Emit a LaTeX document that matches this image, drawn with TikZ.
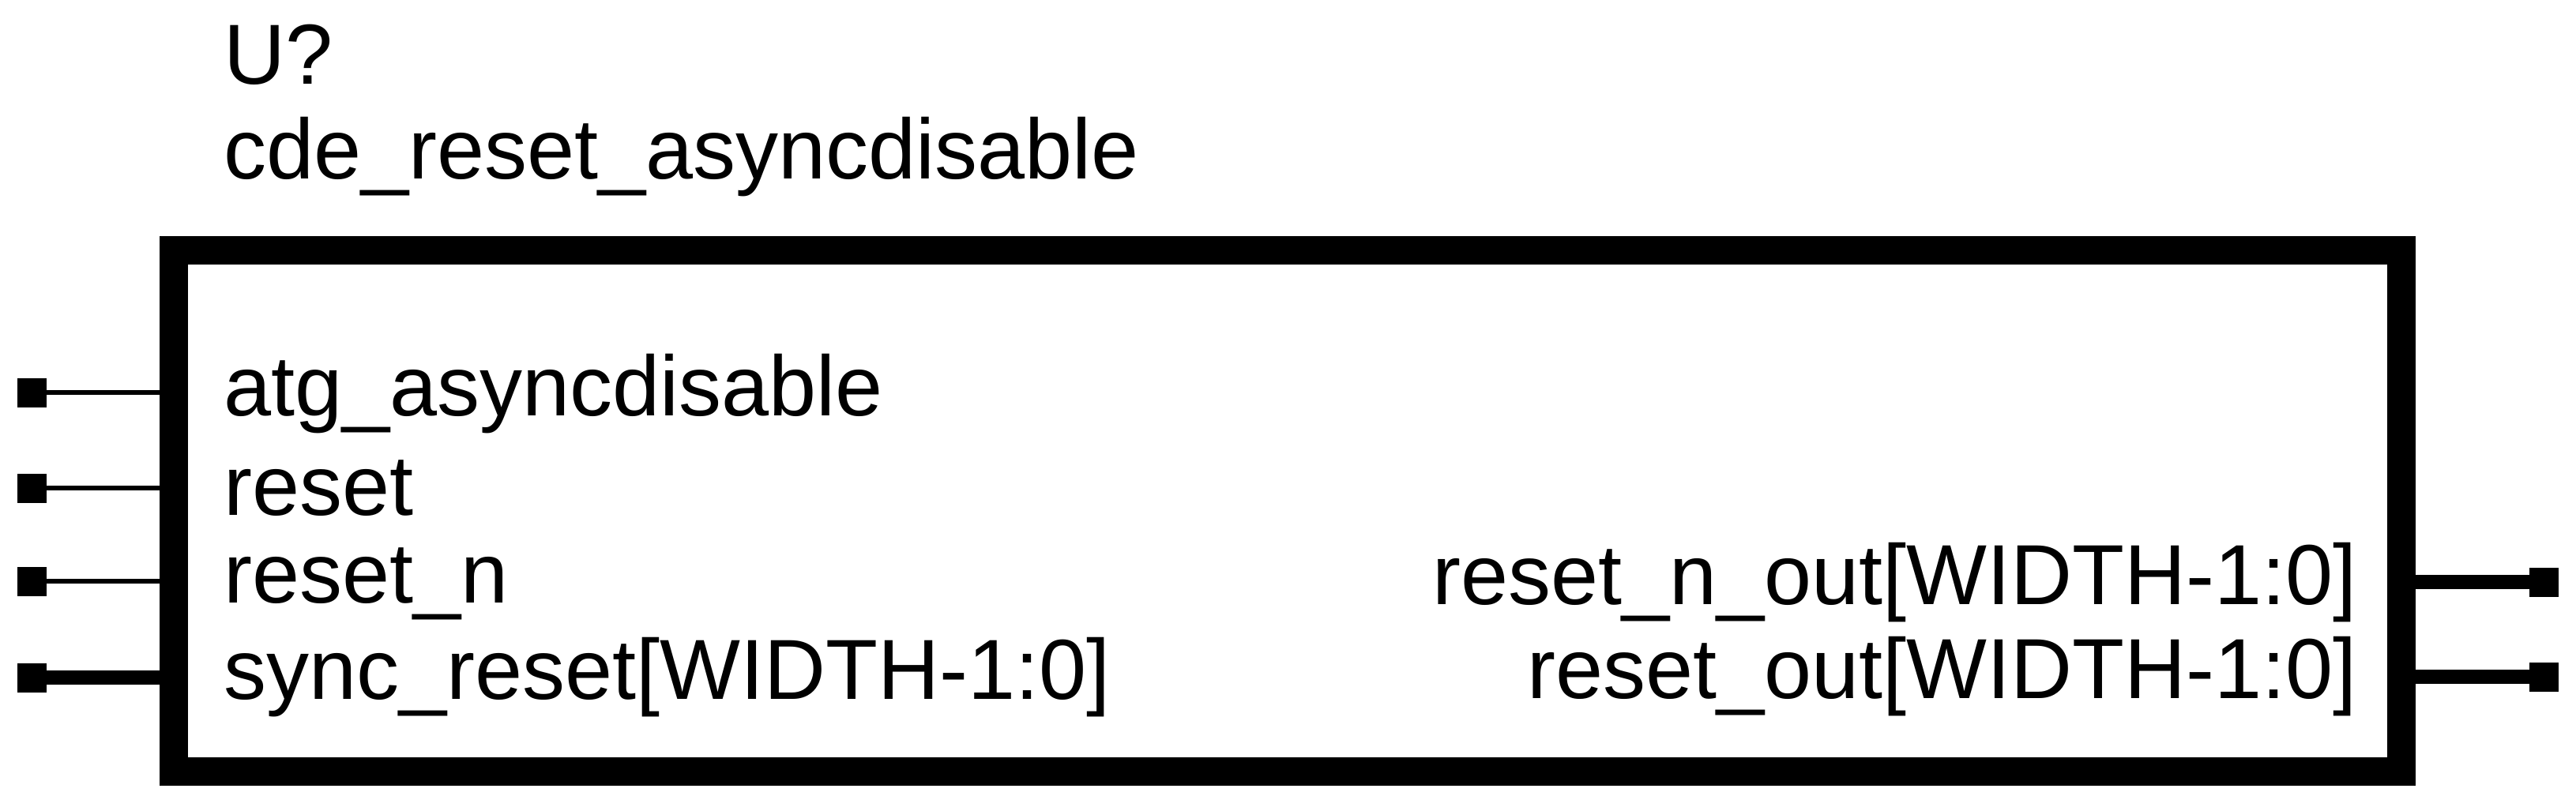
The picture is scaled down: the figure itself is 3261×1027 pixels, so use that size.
\documentclass[tikz,border=0pt]{standalone}
\usepackage{fontspec}
\setmainfont{Liberation Sans}
\begin{document}
\begin{tikzpicture}[x=1pt,y=-1pt,
  pinsq/.style={draw=none,fill=black,minimum size=37pt,inner sep=0pt,outer sep=0pt},
  thinw/.style={line width=6pt},
  thickw/.style={line width=18pt},
  lbl/.style={inner sep=0pt,font=\fontsize{108}{120}\selectfont}]
\useasboundingbox (0,0) rectangle (3261,1027);
\node[draw,line width=36pt,minimum width=2820pt,minimum height=660pt,inner sep=0pt] (box) at (1630,647) {};
% title
\node[lbl,anchor=base west] (ref) at (283,107) {U?};
\node[lbl,anchor=base west] (name) at (283,227) {cde\_reset\_asyncdisable};
% left pins
\node[pinsq] (l1) at (40,497) {};
\node[pinsq] (l2) at (40,618) {};
\node[pinsq] (l3) at (40,736) {};
\node[pinsq] (l4) at (40,858) {};
\draw[thinw] (l1.center) -- (l1.center -| box.west);
\draw[thinw] (l2.center) -- (l2.center -| box.west);
\draw[thinw] (l3.center) -- (l3.center -| box.west);
\draw[thickw] (l4.center) -- (l4.center -| box.west);
% right pins
\node[pinsq] (r1) at (3220,737) {};
\node[pinsq] (r2) at (3220,857) {};
\draw[thickw] (r1.center) -- (r1.center -| box.east);
\draw[thickw] (r2.center) -- (r2.center -| box.east);
% labels
\node[lbl,anchor=base west] (t1) at (283,526) {atg\_asyncdisable};
\node[lbl,anchor=base west] (t2) at (283,652) {reset};
\node[lbl,anchor=base west] (t3) at (283,763) {reset\_n};
\node[lbl,anchor=base west] (t4) at (283,885) {sync\_reset[WIDTH-1:0]};
\node[lbl,anchor=base east] (t5) at (2984,765) {reset\_n\_out[WIDTH-1:0]};
\node[lbl,anchor=base east] (t6) at (2984,884) {reset\_out[WIDTH-1:0]};
\end{tikzpicture}
\end{document}
